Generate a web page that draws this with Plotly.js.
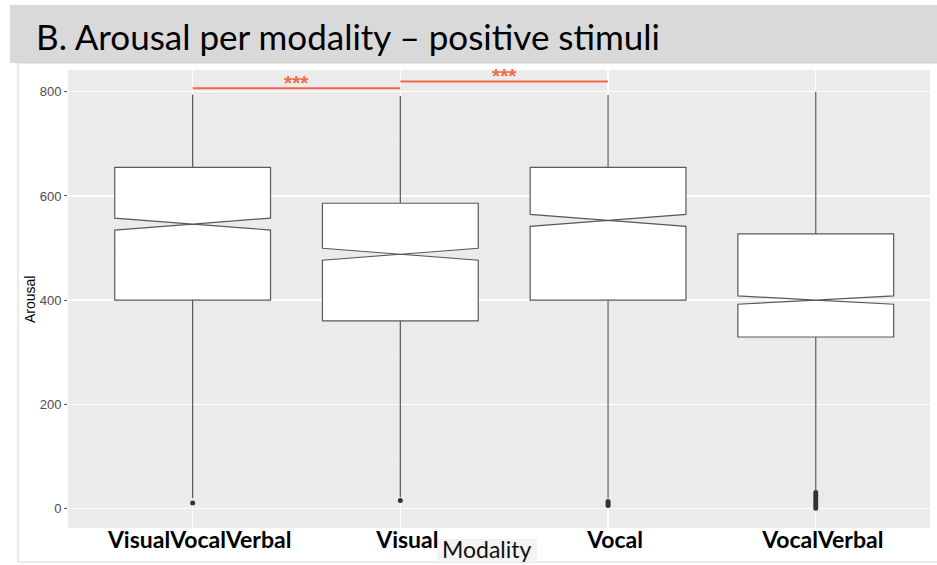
<!DOCTYPE html>
<html>
<head>
<meta charset="utf-8">
<script src="https://cdn.plot.ly/plotly-3.0.1.min.js"></script>
<style>html,body{margin:0;padding:0;background:#fff;}#chart{width:937px;height:565px;}</style>
</head>
<body>
<div id="chart"></div>
<script>
// ---- data ----
const categories = ['VisualVocalVerbal', 'Visual', 'Vocal', 'VocalVerbal'];
const q1Values = [400, 360, 400, 329];
const medianValues = [546, 488, 553, 400];
const q3Values = [655, 586, 655, 527];
const lowerWhisker = [19, 21, 19, 35];
const upperWhisker = [795, 792, 794, 800];
const notchSpans = [11.5, 11.5, 11.5, 8];
const outlierCats = ['VisualVocalVerbal', 'Visual', 'Vocal', 'Vocal', 'Vocal',
  'VocalVerbal', 'VocalVerbal', 'VocalVerbal', 'VocalVerbal', 'VocalVerbal', 'VocalVerbal', 'VocalVerbal'];
const outlierValues = [10, 15, 5, 9, 13, 0, 5, 10, 15, 20, 25, 30];
const sigFrom = ['VisualVocalVerbal', 'Visual'];
const sigTo = ['Visual', 'Vocal'];
const sigLevel = [807, 820];
const sigLabel = ['***', '***'];
const yTicks = [0, 200, 400, 600, 800];

const red = '#f4694c';
const traces = [{
  type: 'box',
  x: categories,
  q1: q1Values, median: medianValues, q3: q3Values,
  lowerfence: lowerWhisker, upperfence: upperWhisker,
  notchspan: notchSpans, notched: true, notchwidth: 0.5,
  whiskerwidth: 0, width: 0.75,
  fillcolor: '#ffffff',
  line: {color: '#5a5a5a', width: 1.2},
  boxpoints: false, hoverinfo: 'skip', showlegend: false
}, {
  type: 'scatter', mode: 'markers',
  x: outlierCats, y: outlierValues,
  marker: {color: '#333333', size: 5},
  hoverinfo: 'skip', showlegend: false
}];
const annotations = [];
for (let i = 0; i < sigFrom.length; i++) {
  traces.push({
    type: 'scatter', mode: 'lines',
    x: [sigFrom[i], sigTo[i]], y: [sigLevel[i], sigLevel[i]],
    line: {color: red, width: 2}, hoverinfo: 'skip', showlegend: false
  });
  const a = categories.indexOf(sigFrom[i]), b = categories.indexOf(sigTo[i]);
  annotations.push({
    x: (a + b) / 2, y: sigLevel[i], xref: 'x', yref: 'y',
    text: '<b>' + sigLabel[i] + '</b>', showarrow: false,
    yanchor: 'bottom', yshift: -8,
    font: {family: 'Liberation Sans, Arial, sans-serif', size: 21, color: red}
  });
}
// title text and axis titles
annotations.push({
  xref: 'paper', yref: 'paper', x: -0.039, y: 1.074, xanchor: 'left', yanchor: 'middle',
  text: 'B. Arousal per modality – positive stimuli', showarrow: false,
  font: {family: 'Lato, Open Sans, sans-serif', size: 35, color: '#000'}
});
annotations.push({
  xref: 'paper', yref: 'paper', x: 0.486, y: -0.045, xanchor: 'center', yanchor: 'middle',
  text: 'Modality', showarrow: false,
  font: {family: 'Lato, Open Sans, sans-serif', size: 23, color: '#111'}
});
annotations.push({
  xref: 'paper', yref: 'paper', x: -0.044, y: 0.498, xanchor: 'center', yanchor: 'middle',
  text: 'Arousal', showarrow: false, textangle: -90,
  font: {family: 'Liberation Sans, Arial, sans-serif', size: 14, color: '#000'}
});

const W = 862, H = 458, L = 68, T = 70;
function px(x) { return (x - L) / W; }
function py(y) { return (T + H - y) / H; }

const layout = {
  width: 937, height: 565,
  margin: {l: 68, r: 7, t: 70, b: 37},
  paper_bgcolor: '#ffffff', plot_bgcolor: '#ebebeb',
  showlegend: false,
  xaxis: {
    type: 'category', range: [-0.6, 3.55],
    showgrid: true, gridcolor: '#ffffff', gridwidth: 1.2,
    zeroline: false, showline: false, ticks: '',
    tickfont: {family: 'Lato, Open Sans, sans-serif', size: 23, color: '#000', weight: 'bold'},
    ticklabelstandoff: -4, ticklabelshift: 7
  },
  yaxis: {
    range: [-38, 842], tickvals: yTicks,
    showgrid: true, gridcolor: '#ffffff', gridwidth: 1.2,
    minor: {dtick: 100, tick0: 0, showgrid: true, gridcolor: '#f4f4f4', gridwidth: 0.6},
    zeroline: false, showline: false,
    ticks: 'outside', ticklen: 3, tickcolor: '#555', tickwidth: 1,
    tickfont: {family: 'Liberation Sans, Arial, sans-serif', size: 13, color: '#4d4d4d'}
  },
  shapes: [
    {type: 'rect', xref: 'paper', yref: 'paper', x0: px(10), x1: px(940), y0: py(63), y1: py(5),
     fillcolor: '#d9d9d9', line: {width: 0}, layer: 'below'},
    {type: 'rect', xref: 'paper', yref: 'paper', x0: px(18), x1: px(940), y0: py(562), y1: py(63),
     fillcolor: 'rgba(0,0,0,0)', line: {color: '#d4d4d4', width: 1}, layer: 'below'},
    {type: 'rect', xref: 'paper', yref: 'paper', x0: px(437), x1: px(537), y0: py(562), y1: py(539),
     fillcolor: '#f4f4f4', line: {width: 0}, layer: 'below'}
  ],
  annotations: annotations
};

Plotly.newPlot('chart', traces, layout, {staticPlot: true, displayModeBar: false});
</script>
</body>
</html>
